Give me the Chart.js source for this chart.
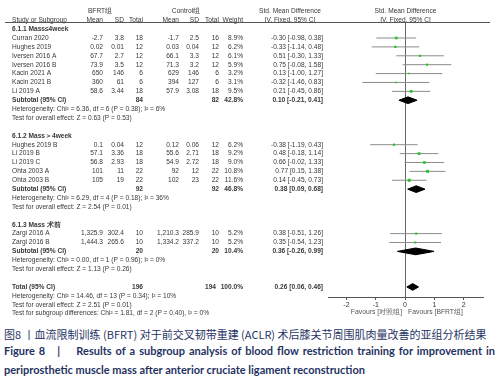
<!DOCTYPE html>
<html>
<head>
<meta charset="utf-8">
<script src="https://cdn.jsdelivr.net/npm/chart.js@4.4.0/dist/chart.umd.min.js"></script>
<style>
  body { margin: 0; background: #fff; width: 501px; height: 385px; overflow: hidden; position: relative; }
  #forest { position: absolute; left: 0; top: 0; }
  .cap { position: absolute; left: 4px; white-space: nowrap; color: #1f3363; }
  #capCn { top: 326px; font: 11px "Noto Sans CJK SC", sans-serif; }
  #capEn1 { top: 344px; width: 491px; font: bold 11px Lato, sans-serif; text-align: justify; text-align-last: justify; white-space: normal; }
  #capEn2 { top: 363px; font: bold 11px Lato, sans-serif; }
</style>
</head>
<body>
<canvas id="forest" width="501" height="322"></canvas>
<div class="cap" id="capCn">图8 丨血流限制训练 (BFRT) 对于前交叉韧带重建 (ACLR) 术后膝关节周围肌肉量改善的亚组分析结果</div>
<div class="cap" id="capEn1">Figure&nbsp;8&nbsp;&nbsp;&nbsp;|&nbsp;&nbsp;&nbsp; Results of a subgroup analysis of blood flow restriction training for improvement in</div>
<div class="cap" id="capEn2">periprosthetic muscle mass after anterior cruciate ligament reconstruction</div>
<script>
// studies
const studies = ["Curran 2020", "Hughes 2019", "Iversen 2016 A", "Iversen 2016 B", "Kacin 2021 A", "Kacin 2021 B", "Li 2019 A",
  "Hughes 2019 B", "Li 2019 B", "Li 2019 C", "Ohta 2003 A", "Ohta 2003 B",
  "Zargi 2016 A", "Zargi 2016 B"];
const studyGroup = [0, 0, 0, 0, 0, 0, 0, 1, 1, 1, 1, 1, 2, 2];
const bfrtMean = [-2.7, 0.02, 67.7, 73.9, 650, 360, 58.6, 0.1, 57.1, 56.8, 101, 105, 1325.9, 1444.3];
const bfrtSD = [3.8, 0.01, 2.7, 3.5, 146, 61, 3.44, 0.04, 3.36, 2.93, 11, 19, 302.4, 265.6];
const bfrtN = [18, 12, 12, 12, 6, 6, 18, 12, 18, 18, 22, 22, 10, 10];
const ctrlMean = [-1.7, 0.03, 66.1, 71.3, 629, 394, 57.9, 0.12, 55.6, 54.9, 92, 102, 1210.3, 1334.2];
const ctrlSD = [2.5, 0.04, 3.3, 3.2, 146, 127, 3.08, 0.06, 2.71, 2.72, 12, 23, 285.9, 337.2];
const ctrlN = [16, 12, 12, 12, 6, 6, 18, 12, 18, 18, 22, 22, 10, 10];
const weight = [8.9, 6.2, 6.1, 5.9, 3.2, 3.1, 9.5, 6.2, 9.2, 9.0, 10.8, 11.6, 5.2, 5.2];
const smd = [-0.30, -0.33, 0.51, 0.75, 0.13, -0.32, 0.21, -0.38, 0.48, 0.66, 0.77, 0.14, 0.38, 0.35];
const ciLow = [-0.98, -1.14, -0.30, -0.08, -1.00, -1.46, -0.45, -1.19, -0.18, -0.02, 0.15, -0.45, -0.51, -0.54];
const ciHigh = [0.38, 0.48, 1.33, 1.58, 1.27, 0.83, 0.86, 0.43, 1.14, 1.33, 1.38, 0.73, 1.26, 1.23];

// subgroups
const groupTitles = ["6.1.1 Mass≤4week", "6.1.2 Mass＞4week", "6.1.3 Mass 术前"];
const subN1 = [84, 92, 20];
const subN2 = [82, 92, 20];
const subWeight = [42.8, 46.8, 10.4];
const subSmd = [0.10, 0.38, 0.36];
const subLow = [-0.21, 0.09, -0.26];
const subHigh = [0.41, 0.68, 0.99];
const subHetero = ["Heterogeneity: Chi² = 6.36, df = 6 (P = 0.38); I² = 6%",
  "Heterogeneity: Chi² = 6.29, df = 4 (P = 0.18); I² = 36%",
  "Heterogeneity: Chi² = 0.00, df = 1 (P = 0.96); I² = 0%"];
const subTest = ["Test for overall effect: Z = 0.63 (P = 0.53)",
  "Test for overall effect: Z = 2.54 (P = 0.01)",
  "Test for overall effect: Z = 1.13 (P = 0.26)"];

// overall
const totalN = [196, 194];
const totalSmd = 0.26;
const totalCI = [0.06, 0.46];
const totalNotes = ["Heterogeneity: Chi² = 14.46, df = 13 (P = 0.34); I² = 10%",
  "Test for overall effect: Z = 2.51 (P = 0.01)",
  "Test for subgroup differences: Chi² = 1.81, df = 2 (P = 0.40), I² = 0%"];

const xTicks = [-2, -1, 0, 1, 2];
const favours = ["Favours [对照组]", "Favours [BFRT组]"];

// work out which row each line sits on
const studyRow = [], titleRow = [], subRow = [];
let r = 0;
groupTitles.forEach((t, g) => {
  titleRow[g] = r++;
  studies.forEach((s, i) => { if (studyGroup[i] === g) studyRow[i] = r++; });
  subRow[g] = r;
  r += 4;
});
const totalRow = r;

const fmt = v => v.toLocaleString('en-US', { maximumFractionDigits: 2 });
const ciText = (m, lo, hi) => m.toFixed(2) + ' [' + lo.toFixed(2) + ', ' + hi.toFixed(2) + ']';

const ciLines = [];
studies.forEach((s, i) => {
  ciLines.push({ x: ciLow[i], y: studyRow[i] }, { x: ciHigh[i], y: studyRow[i] }, { x: NaN, y: NaN });
});

const dh = 0.38;
const diamond = (m, lo, hi, row) => ({
  data: [{ x: lo, y: row }, { x: m, y: row - dh }, { x: hi, y: row }, { x: m, y: row + dh }, { x: lo, y: row }],
  showLine: true, fill: 'shape', borderColor: '#000', backgroundColor: '#000',
  borderWidth: 1, pointRadius: 0, tension: 0
});

const datasets = [
  {
    data: studies.map((s, i) => ({ x: smd[i], y: studyRow[i] })),
    pointStyle: 'rect',
    pointRadius: weight.map(w => 0.62 * Math.sqrt(w)),
    backgroundColor: '#19c819', borderWidth: 0
  },
  { data: ciLines, showLine: true, borderColor: '#8c8c8c', borderWidth: 1, pointRadius: 0 }
];
groupTitles.forEach((t, g) => datasets.push(diamond(subSmd[g], subLow[g], subHigh[g], subRow[g])));
datasets.push(diamond(totalSmd, totalCI[0], totalCI[1], totalRow));

// left hand table, drawn with the y scale rows
const tablePlugin = {
  id: 'forestTable',
  afterDraw(chart) {
    const ctx = chart.ctx, ys = chart.scales.y, xs = chart.scales.x, area = chart.chartArea;
    const Y = row => ys.getPixelForValue(row);
    const put = (text, x, row, align, bold) => {
      ctx.font = (bold ? 'bold ' : '') + '6.6px "Liberation Sans", Arial, sans-serif';
      ctx.textAlign = align;
      ctx.fillText(text, x, Y(row));
    };
    const cols = [103, 124, 143, 179, 199, 219, 243];
    const ciX = 323, mid = (area.left + area.right) / 2;
    ctx.save();
    ctx.fillStyle = '#383838';
    ctx.textBaseline = 'middle';

    put('BFRT组', 100, -2, 'center');
    put('Control组', 186, -2, 'center');
    put('Std. Mean Difference', 290, -2, 'center');
    put('Std. Mean Difference', mid, -2, 'center');
    put('Study or Subgroup', 12, -1, 'left');
    ['Mean', 'SD', 'Total', 'Mean', 'SD', 'Total', 'Weight'].forEach((h, k) => put(h, cols[k], -1, 'right'));
    put('IV, Fixed, 95% CI', 290, -1, 'center');
    put('IV, Fixed, 95% CI', mid, -1, 'center');

    ctx.strokeStyle = '#555';
    ctx.lineWidth = 1;
    ctx.beginPath();
    ctx.moveTo(5, area.top + 0.5);
    ctx.lineTo(490, area.top + 0.5);
    ctx.stroke();

    studies.forEach((s, i) => {
      const row = studyRow[i];
      put(s, 12, row, 'left');
      [fmt(bfrtMean[i]), fmt(bfrtSD[i]), bfrtN[i], fmt(ctrlMean[i]), fmt(ctrlSD[i]), ctrlN[i], weight[i].toFixed(1) + '%']
        .forEach((v, k) => put(String(v), cols[k], row, 'right'));
      put(ciText(smd[i], ciLow[i], ciHigh[i]), ciX, row, 'right');
    });
    groupTitles.forEach((t, g) => {
      put(t, 12, titleRow[g], 'left', true);
      const row = subRow[g];
      put('Subtotal (95% CI)', 12, row, 'left', true);
      put(String(subN1[g]), cols[2], row, 'right', true);
      put(String(subN2[g]), cols[5], row, 'right', true);
      put(subWeight[g].toFixed(1) + '%', cols[6], row, 'right', true);
      put(ciText(subSmd[g], subLow[g], subHigh[g]), ciX, row, 'right', true);
      put(subHetero[g], 12, row + 1, 'left');
      put(subTest[g], 12, row + 2, 'left');
    });
    put('Total (95% CI)', 12, totalRow, 'left', true);
    put(String(totalN[0]), cols[2], totalRow, 'right', true);
    put(String(totalN[1]), cols[5] - 3, totalRow, 'right', true);
    put('100.0%', cols[6], totalRow, 'right', true);
    put(ciText(totalSmd, totalCI[0], totalCI[1]), ciX, totalRow, 'right', true);
    totalNotes.forEach((n, k) => put(n, 12, totalRow + 1 + k, 'left'));

    const x0 = xs.getPixelForValue(0);
    ctx.fillStyle = '#555';
    ctx.font = '6.8px "Liberation Sans", Arial, sans-serif';
    ctx.textAlign = 'right';
    ctx.fillText(favours[0], x0 - 3, area.bottom + 15);
    ctx.textAlign = 'left';
    ctx.fillText(favours[1], x0 + 3, area.bottom + 15);
    ctx.restore();
  }
};

new Chart(document.getElementById('forest'), {
  type: 'scatter',
  data: { datasets: datasets },
  options: {
    responsive: false,
    animation: false,
    devicePixelRatio: 1,
    layout: { padding: { left: 328, right: 18, top: 22, bottom: 0 } },
    plugins: { legend: { display: false }, tooltip: { enabled: false } },
    events: [],
    scales: {
      x: {
        type: 'linear', min: -2.63, max: 2.66,
        afterBuildTicks: s => { s.ticks = xTicks.map(v => ({ value: v })); },
        afterFit: s => { s.height = 25; },
        grid: {
          drawOnChartArea: true,
          color: c => (c.tick && c.tick.value === 0 ? '#666' : 'rgba(0,0,0,0)'),
          tickColor: '#555', tickLength: 3
        },
        border: { display: true, color: '#555', width: 1 },
        ticks: { font: { family: 'Liberation Sans', size: 7 }, color: '#333', padding: 1, autoSkip: false, maxRotation: 0 }
      },
      y: {
        type: 'linear', display: false, reverse: true, min: -0.8, max: 30.13
      }
    }
  },
  plugins: [tablePlugin]
});
</script>
</body>
</html>
